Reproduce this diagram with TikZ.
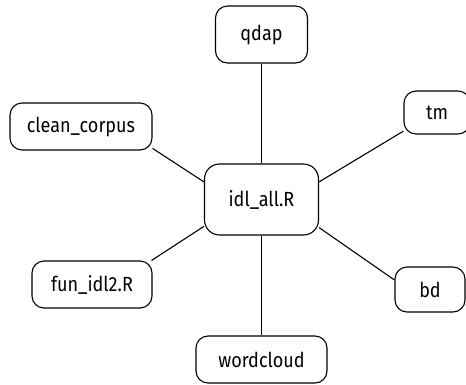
\documentclass[tikz,border=0pt]{standalone}
\usepackage{fontspec}
\setmainfont[FakeStretch=0.88]{Fira Sans}

\begin{document}
\begin{tikzpicture}[x=1pt, y=-1pt,
  pkg/.style={draw, line width=1.1pt, rounded corners=12pt, align=center,
    font=\fontsize{20.5}{24}\selectfont, inner sep=0pt},
  link/.style={line width=1.1pt}]

\useasboundingbox (0,0) rectangle (466,384);

\node[pkg, minimum width=92pt, minimum height=57pt] (qdap) at (261.5,34.5) {qdap};
\node[pkg, minimum width=142pt, minimum height=47pt] (clean) at (81,126.5) {clean\_corpus};
\node[pkg, minimum width=66pt, minimum height=43pt] (tm) at (437,112.5) {tm};
\node[pkg, minimum width=114pt, minimum height=71pt, rounded corners=15pt] (idl) at (261.5,199.5) {idl\_all.R};
\node[pkg, minimum width=120pt, minimum height=47pt] (fun) at (92,284.5) {fun\_idl2.R};
\node[pkg, minimum width=70pt, minimum height=45pt] (bd) at (430,289.5) {bd};
\node[pkg, minimum width=131pt, minimum height=47pt] (wordcloud) at (261.5,359.5) {wordcloud};

\draw[link] (qdap) -- (idl);
\draw[link] (clean.-17) -- (idl.163);
\draw[link] (tm.209) -- (idl.17);
\draw[link] (fun.22) -- (idl.205);
\draw[link] (bd.165) -- (idl.-26);
\draw[link] (idl) -- (wordcloud);

\end{tikzpicture}
\end{document}
